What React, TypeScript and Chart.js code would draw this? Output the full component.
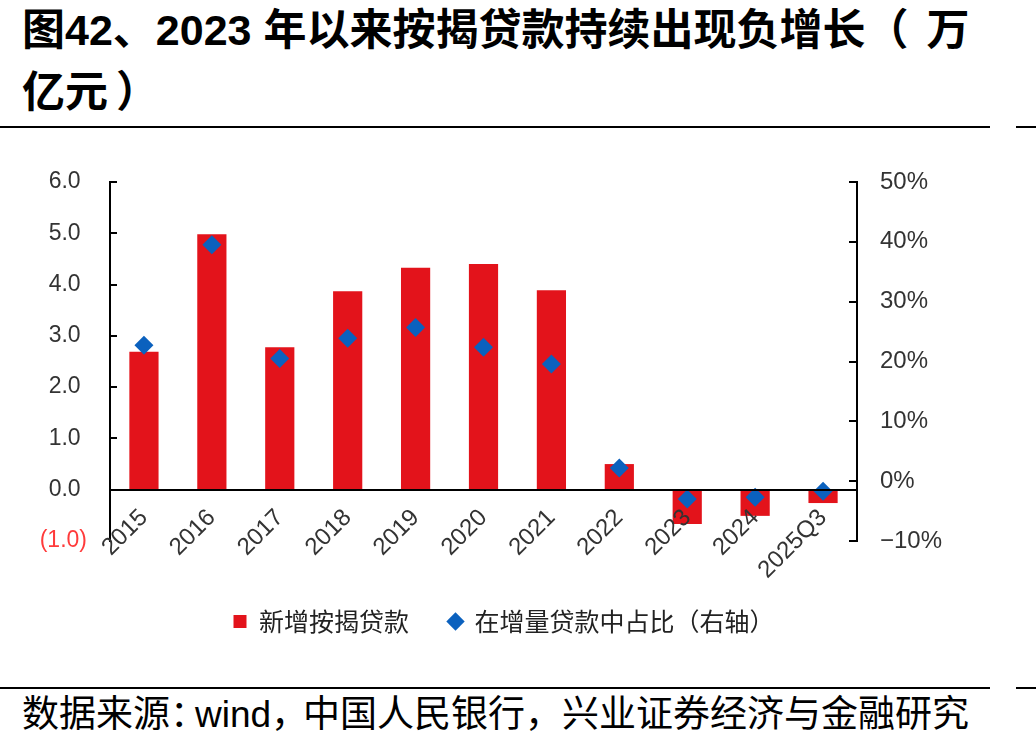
import React, { useEffect, useRef } from 'react';
import { Chart, registerables } from 'chart.js';

Chart.register(...registerables);

// ---- data ----
const categories = ['2015', '2016', '2017', '2018', '2019', '2020', '2021', '2022', '2023', '2024', '2025Q3'];
const newMortgageLoans = [2.69, 4.98, 2.78, 3.87, 4.33, 4.40, 3.89, 0.50, -0.67, -0.51, -0.26];
const shareOfNewLoans = [22.7, 39.5, 20.5, 23.9, 25.7, 22.4, 19.6, 2.2, -3.0, -2.7, -1.7];
const leftAxisRange = [-1, 6];
const rightAxisRange = [-10, 50];
const seriesNames = ['新增按揭贷款', '在增量贷款中占比（右轴）'];

const RED = '#E3131B';
const BLUE = '#0B61BE';
const TICK_COLOR = '#333333';
const FONT = '"Liberation Sans", Arial, "Noto Sans CJK SC", sans-serif';

const innerTicksPlugin = {
  id: 'innerTicks',
  afterDraw(chart: any) {
    const ctx = chart.ctx;
    const area = chart.chartArea;
    const y = chart.scales.y;
    const y1 = chart.scales.y1;
    ctx.save();
    ctx.strokeStyle = '#000';
    ctx.lineWidth = 2;
    y.ticks.forEach((t: any) => {
      if (t.value === 0 || t.value === leftAxisRange[0]) return;
      const py = Math.round(y.getPixelForValue(t.value));
      ctx.beginPath();
      ctx.moveTo(area.left, py);
      ctx.lineTo(area.left + 7, py);
      ctx.stroke();
    });
    y1.ticks.forEach((t: any) => {
      const py = Math.round(y1.getPixelForValue(t.value));
      ctx.beginPath();
      ctx.moveTo(area.right, py);
      ctx.lineTo(area.right - 8, py);
      ctx.stroke();
    });
    ctx.restore();
  },
};

export default function App() {
  const ref = useRef<HTMLCanvasElement | null>(null);

  useEffect(() => {
    if (!ref.current) return;
    const chart = new Chart(ref.current, {
      type: 'bar',
      data: {
        labels: categories,
        datasets: [
          {
            type: 'bar',
            label: seriesNames[0],
            data: newMortgageLoans,
            backgroundColor: RED,
            borderWidth: 0,
            barPercentage: 0.43,
            categoryPercentage: 1,
            xAxisID: 'x',
            yAxisID: 'y',
            order: 2,
          } as any,
          {
            type: 'line',
            label: seriesNames[1],
            data: shareOfNewLoans,
            showLine: false,
            pointStyle: 'rectRot',
            pointRadius: 9.5,
            pointHoverRadius: 9.5,
            backgroundColor: BLUE,
            borderColor: BLUE,
            borderWidth: 0,
            pointBorderWidth: 0,
            xAxisID: 'x',
            yAxisID: 'y1',
            order: 1,
          } as any,
        ],
      },
      options: {
        responsive: false,
        animation: false,
        layout: { padding: { top: 52, bottom: 6, left: 0, right: 0 } },
        scales: {
          x: {
            type: 'category',
            position: { y: 0 } as any,
            offset: true,
            grid: { display: false, drawTicks: false },
            border: { display: true, color: '#000', width: 2, z: 1 } as any,
            ticks: {
              autoSkip: false,
              minRotation: 45,
              maxRotation: 45,
              padding: 14,
              z: 1,
              color: TICK_COLOR,
              font: { family: FONT, size: 24 },
            } as any,
          },
          xpad: {
            type: 'category',
            position: 'bottom',
            grid: { display: false, drawTicks: false },
            border: { display: false },
            ticks: { display: false },
            afterFit: (s: any) => { s.height = 28; },
          },
          y: {
            type: 'linear',
            position: 'left',
            min: leftAxisRange[0],
            max: leftAxisRange[1],
            grid: { display: false, drawTicks: false },
            border: { display: true, color: '#000', width: 2 },
            ticks: {
              stepSize: 1,
              padding: 23,
              font: { family: FONT, size: 23 },
              color: (c: any) => (c.tick && c.tick.value < 0 ? '#FF3B3B' : TICK_COLOR),
              callback: (v: any) => (v < 0 ? `(${Math.abs(v).toFixed(1)})` : `${Number(v).toFixed(1)} `),
            },
            afterFit: (s: any) => { s.width = 110; },
          },
          y1: {
            type: 'linear',
            position: 'right',
            min: rightAxisRange[0],
            max: rightAxisRange[1],
            grid: { display: false, drawTicks: false },
            border: { display: true, color: '#000', width: 2 },
            ticks: {
              stepSize: 10,
              padding: 23,
              font: { family: FONT, size: 24 },
              color: TICK_COLOR,
              callback: (v: any) => (v < 0 ? `\u2212${Math.abs(v)}%` : `${v}%`),
            },
            afterFit: (s: any) => { s.width = 151; },
          },
        },
        plugins: {
          legend: {
            display: true,
            position: 'bottom',
            labels: {
              padding: 40,
              boxWidth: 13,
              boxHeight: 13,
              usePointStyle: true,
              color: '#222',
              font: { family: '"Noto Sans CJK SC", sans-serif', size: 25 },
              generateLabels: (ch: any) => {
                const items = Chart.defaults.plugins.legend.labels.generateLabels(ch);
                items.forEach((it: any) => {
                  it.pointStyle = it.datasetIndex === 0 ? 'rect' : 'rectRot';
                  it.lineWidth = 0;
                });
                items.sort((a: any, b: any) => a.datasetIndex - b.datasetIndex);
                return items;
              },
            },
          },
          tooltip: { enabled: false },
        },
      },
      plugins: [innerTicksPlugin],
    });
    return () => chart.destroy();
  }, []);

  const rule = (top: number) => (
    <>
      <div style={{ position: 'absolute', left: 0, top, width: 990, height: 2, background: '#000' }} />
      <div style={{ position: 'absolute', left: 1016, top, width: 20, height: 2, background: '#000' }} />
    </>
  );

  return (
    <div style={{ position: 'fixed', left: 0, top: 0, width: 1036, height: 747, background: '#fff', overflow: 'hidden' }}>
      <div
        style={{
          position: 'absolute',
          left: 22,
          top: -1,
          fontFamily: '"Liberation Sans", Arial, "Noto Sans CJK SC", sans-serif',
          fontWeight: 'bold',
          fontSize: 43,
          lineHeight: '62px',
          color: '#000',
          whiteSpace: 'nowrap',
        }}
      >
        图42、2023 年以来按揭贷款持续出现负增长<span style={{ letterSpacing: '18px' }}>（</span>万
        <br />
        亿元<span style={{ marginLeft: '8px' }}>）</span>
      </div>
      {rule(126)}
      <canvas ref={ref} width={1008} height={520} style={{ position: 'absolute', left: 0, top: 130 }} />
      {rule(687)}
      <div
        style={{
          position: 'absolute',
          left: 22,
          top: 693,
          fontFamily: '"Liberation Sans", Arial, "Noto Sans CJK SC", sans-serif',
          fontSize: 37,
          lineHeight: '44px',
          color: '#000',
          whiteSpace: 'nowrap',
        }}
      >
        数据来源<span style={{ letterSpacing: '-12px' }}>：</span>wind<span style={{ letterSpacing: '-5px' }}>，</span>中国人民银行，兴业证券经济与金融研究
      </div>
    </div>
  );
}
